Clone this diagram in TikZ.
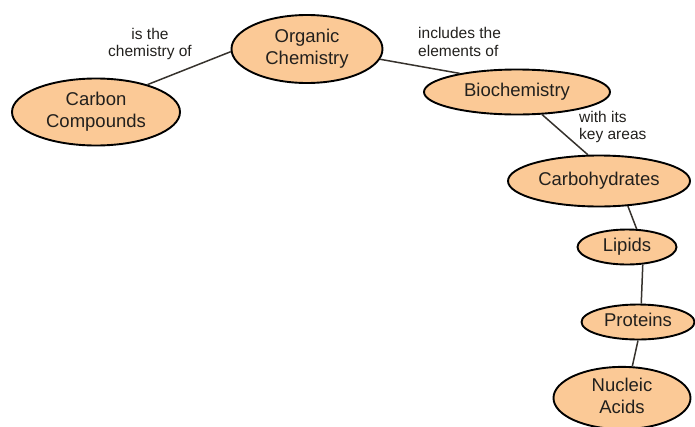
\documentclass[tikz,border=0pt]{standalone}
\usepackage{fontspec}
\setmainfont{Liberation Sans}
\usetikzlibrary{shapes.geometric}
\definecolor{peach}{HTML}{FBC996}
\definecolor{txt}{HTML}{22201D}
\definecolor{lnk}{HTML}{36322D}
\newcommand{\ctxt}[1]{\makebox[0pt]{\begin{tabular}{@{}c@{}}#1\end{tabular}}}
\tikzset{
  concept/.style={ellipse, draw=black, line width=1.9pt, fill=peach, inner sep=0pt,
    text=txt, font=\fontsize{18.5}{22}\selectfont},
  link/.style={draw=lnk, line width=1.5pt},
  linklabel/.style={text=txt, font=\fontsize{15.5}{17.5}\selectfont, inner sep=0pt}
}
\begin{document}
\begin{tikzpicture}[x=1pt,y=-1pt]
\useasboundingbox (0,0) rectangle (695,426);
\node[concept, minimum width=151pt, minimum height=68pt] (org) at (307,49) {\ctxt{Organic\\Chemistry}};
\node[concept, minimum width=168pt, minimum height=67pt] (carb) at (96,112) {\ctxt{Carbon\\Compounds}};
\node[concept, minimum width=186pt, minimum height=45pt] (bio) at (517,92) {\ctxt{Biochemistry}};
\node[concept, minimum width=182pt, minimum height=51pt] (cho) at (599,181) {\ctxt{Carbohydrates}};
\node[concept, minimum width=99pt, minimum height=35pt] (lip) at (627,247) {\ctxt{Lipids}};
\node[concept, minimum width=113pt, minimum height=35pt] (pro) at (638,322) {\ctxt{Proteins}};
\node[concept, minimum width=137pt, minimum height=60pt] (nuc) at (622,398) {\ctxt{Nucleic\\Acids}};

\draw[link] (carb.28) -- (org.182);
\draw[link] (org.352) -- (bio.162);
\draw[link] (bio.318) -- (cho.113);
\draw[link] (cho.319) -- (lip.62);
\draw[link] (lip.312) -- (pro.80);
\draw[link] (pro.270) -- (nuc.72);

\node[linklabel, align=center] (l1) at (150,44) {is the\\chemistry of};
\node[linklabel, align=left, anchor=west] (l2) at (418,42) {includes the\\elements of};
\node[linklabel, align=left, anchor=west] (l3) at (579,127) {with its\\key areas};
\end{tikzpicture}
\end{document}
